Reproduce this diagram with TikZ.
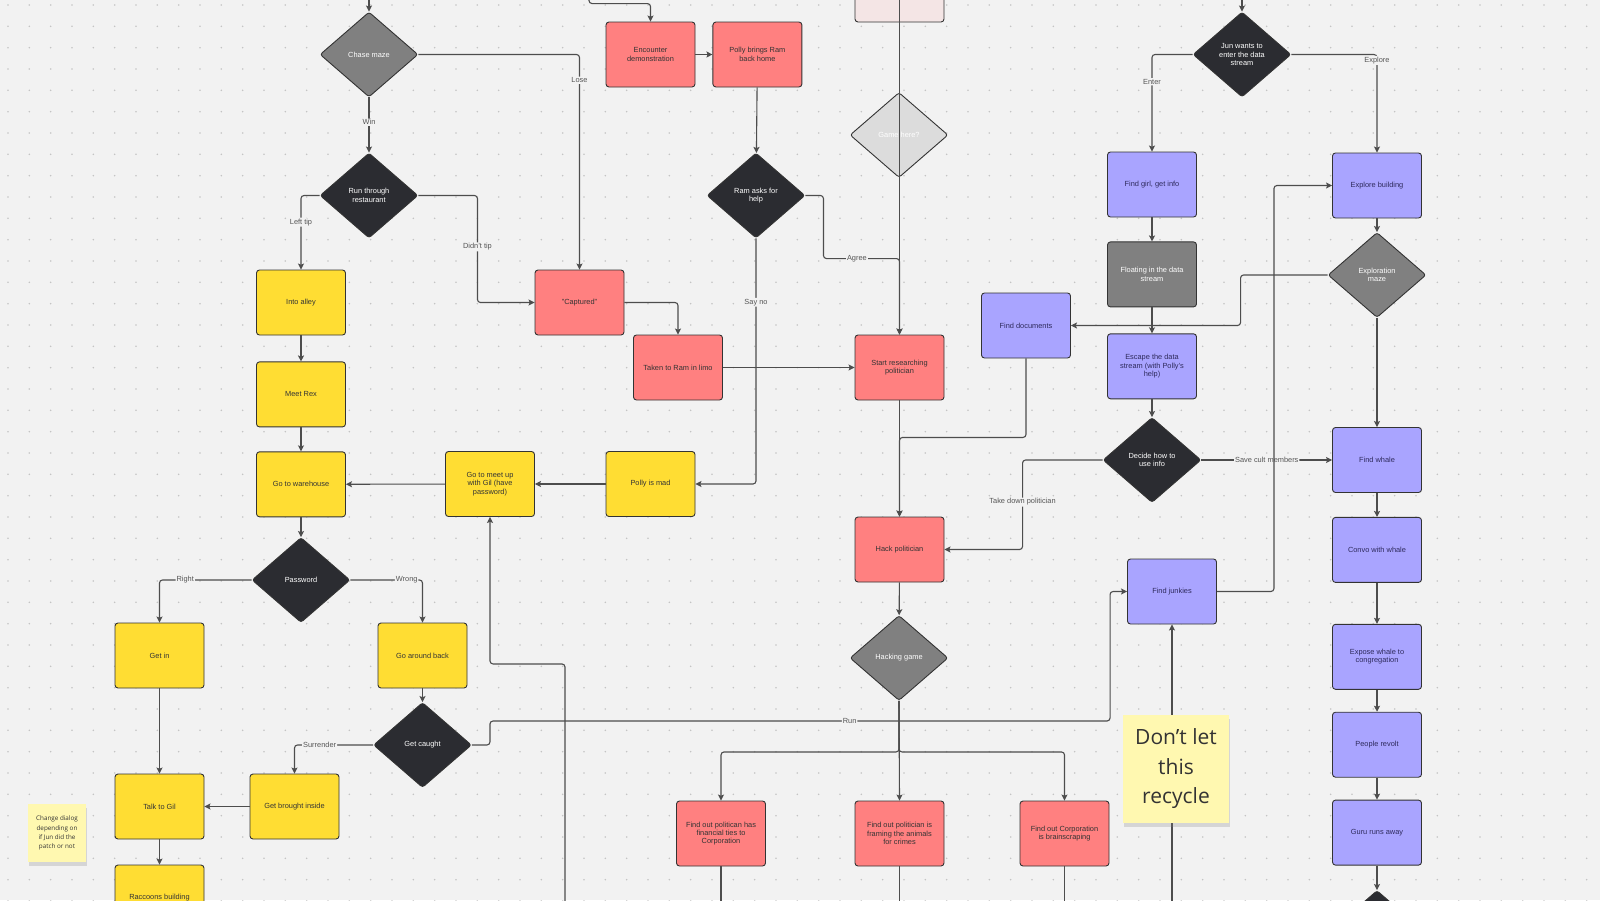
\documentclass[tikz,border=0pt]{standalone}
\usepackage{fontspec}
\setmainfont{Liberation Sans}
\newfontfamily\stickyfont{Open Sans}
\usetikzlibrary{positioning,arrows.meta,calc,shapes.geometric,shadows}
\definecolor{cbg}{HTML}{F2F2F2}
\definecolor{cdot}{HTML}{C4C4C4}
\definecolor{cred}{HTML}{FF8080}
\definecolor{cyel}{HTML}{FFDD33}
\definecolor{cpur}{HTML}{A9A4FF}
\definecolor{cdark}{HTML}{2B2C31}
\definecolor{cgray}{HTML}{808080}
\definecolor{cline}{HTML}{4D4D4D}
\definecolor{cmut}{HTML}{555555}
\definecolor{cink}{HTML}{333333}
\definecolor{cpink}{HTML}{F4E5E5}
\definecolor{cfade}{HTML}{DCDCDC}
\definecolor{cnote}{HTML}{FFF8B0}
\definecolor{cpurtxt}{HTML}{2E2A5C}

\begin{document}
\begin{tikzpicture}[x=1pt, y=-1pt,
  card/.style={rectangle, rounded corners=3pt, draw=cink, line width=0.9pt,
               minimum width=89pt, minimum height=65pt, inner sep=2pt, align=center,
               font=\fontsize{7.4}{8.4}\selectfont, text=cink},
  redbox/.style={card, fill=cred},
  yelbox/.style={card, fill=cyel},
  purbox/.style={card, fill=cpur, text=cpurtxt},
  gatedark/.style={diamond, rounded corners=2.5pt, draw=cink, line width=0.9pt, fill=cdark,
               minimum width=98pt, minimum height=85pt, inner sep=0pt, align=center,
               font=\fontsize{7.4}{8.4}\selectfont, text=white},
  gategray/.style={gatedark, fill=cgray},
  lbl/.style={fill=cbg, inner sep=1pt, text=cmut, font=\fontsize{7.4}{8.4}\selectfont},
  arr/.style={-{Stealth[length=6pt, width=6pt, inset=1.2pt]}, line width=1.1pt,
              draw=cline, rounded corners=3pt},
  wire/.style={line width=1.1pt, draw=cline, rounded corners=3pt},
  sticky/.style={rectangle, fill=cnote, inner sep=2pt, align=center, text=cink,
                 drop shadow={shadow xshift=1pt, shadow yshift=-4pt, opacity=0.25}},
  node distance=25pt
]
\useasboundingbox (0,0) rectangle (1600,900);
\clip (0,0) rectangle (1600,900);

% --- board: dotted canvas ---
\fill[cbg] (0,0) rectangle (1600,900);
\foreach \i in {0,...,75}
  \foreach \j in {0,...,42}
    \fill[cdot] ({8+21.333*\i},{5+21.333*\j}) circle (0.9pt);

% --- left column: restaurant chase and warehouse ---
\node[gategray] (chase) at (369,54.5) {Chase maze};
\node[gatedark] (run) at (369,195.5) {Run through\\restaurant};
\node[yelbox] (into) at (301,302.5) {Into alley};
\node[yelbox, below=26pt of into] (rex) {Meet Rex};
\node[yelbox, below=24pt of rex] (ware) {Go to warehouse};
\node[gatedark] (pass) at (301,580) {Password};
\node[yelbox] (getin) at (159.5,655.5) {Get in};
\node[yelbox] (back) at (422.5,655.5) {Go around back};
\node[gatedark] (caught) at (422.5,745) {Get caught};
\node[yelbox] (brought) at (294.5,806.5) {Get brought inside};
\node[yelbox] (gil) at (159.5,806.5) {Talk to Gil};
\node[yelbox] (racc) at (159.5,897.5) {Raccoons building};
\node[yelbox] (gomeet) at (490,484) {Go to meet up\\with Gil (have\\password)};
\node[yelbox] (mad) at (650.5,484) {Polly is mad};

% --- middle: Ram and the politician ---
\node[redbox] (captured) at (579.5,302.5) {"Captured"};
\node[redbox] (limo) at (678,367.5) {Taken to Ram in limo};
\node[redbox] (enc) at (650.5,54.5) {Encounter\\demonstration};
\node[redbox, right=17pt of enc] (polly) {Polly brings Ram\\back home};
\node[gatedark] (ram) at (756,195.5) {Ram asks for\\help};
\node[card, fill=cpink] (ghost) at (899.5,-10.5) {};
\node[gategray, fill=cfade] (game) at (899,135) {Game here?};
\node[redbox] (start) at (899.5,367.5) {Start researching\\politician};
\node[redbox] (hack) at (899.5,549.5) {Hack politician};
\node[gategray] (hgame) at (899,658) {Hacking game};
\node[redbox] (fin1) at (721,833.5) {Find out politican has\\financial ties to\\Corporation};
\node[redbox] (fin2) at (899.5,833.5) {Find out politician is\\framing the animals\\for crimes};
\node[redbox] (fin3) at (1064.5,833.5) {Find out Corporation\\is brainscraping};

% --- right: data stream and the whale ---
\node[purbox] (docs) at (1026,325.5) {Find documents};
\node[gatedark] (jun) at (1242,54.5) {Jun wants to\\enter the data\\stream};
\node[purbox] (girl) at (1152,184.5) {Find girl, get info};
\node[card, fill=cgray, text=white, below=24pt of girl] (float) {Floating in the data\\stream};
\node[purbox, below=26pt of float] (escape) {Escape the data\\stream (with Polly's\\help)};
\node[gatedark] (decide) at (1152,460) {Decide how to\\use info};
\node[purbox] (junkies) at (1172,591.5) {Find junkies};
\node[purbox] (explore) at (1377,185.5) {Explore building};
\node[gategray] (emaze) at (1377,275) {Exploration\\maze};
\node[purbox] (whale) at (1377,460) {Find whale};
\node[purbox, below=24pt of whale] (convo) {Convo with whale};
\node[purbox, below=41pt of convo] (expose) {Expose whale to\\congregation};
\node[purbox, below=22pt of expose] (revolt) {People revolt};
\node[purbox, below=22pt of revolt] (guru) {Guru runs away};
\node[gatedark] (last) at (1377,933) {};

% --- loose ends at the board edges ---
\coordinate (inChase) at (369,-10);
\coordinate (inEnc) at (589,-10);
\coordinate (inJun) at (1242,-10);
\coordinate (inStart) at (899.5,-60);
\coordinate (upMeet) at (565,920);
\coordinate (upJunk) at (1172,920);

% --- connectors: left ---
\draw[arr] (inChase) -- (chase.north);
\draw[arr] (chase.south) -- node[lbl, pos=0.45] (lWin) {Win} (run.north);
\draw[arr] (chase.east) -| node[lbl, pos=0.56] (lLose) {Lose} (captured.north);
\draw[arr] (run.west) -| node[lbl, pos=0.68] (lLeft) {Left tip} (into.north);
\draw[arr] (run.east) -- ++(59,0) |- node[lbl, pos=0.24] (lDidnt) {Didn't tip} (captured.west);
\draw[arr] (into) -- (rex);
\draw[arr] (rex) -- (ware);
\draw[arr] (ware) -- (pass);
\draw[arr] (pass.west) -| node[lbl, pos=0.36] (lRight) {Right} (getin.north);
\draw[arr] (pass.east) -| node[lbl, pos=0.39] (lWrong) {Wrong} (back.north);
\draw[arr] (back) -- (caught);
\draw[arr] (caught.west) -| node[lbl, pos=0.34] (lSurr) {Surrender} (brought.north);
\draw[arr] (brought) -- (gil);
\draw[arr] (getin) -- (gil);
\draw[arr] (gil) -- (racc);
\draw[arr] (caught.east) -- ++(18,0)
  |- node[lbl, pos=0.79] (lRun) {Run} ($(junkies.west)+(-17,129.5)$) |- (junkies.west);

% --- connectors: middle ---
\draw[arr] (inEnc) |- ($(enc.north)+(0,-18)$) -- (enc.north);
\draw[arr] (enc) -- (polly);
\draw[arr] (polly) -- (ram);
\draw[arr] (captured.east) -| (limo.north);
\draw[arr] (limo) -- (start);
\draw[arr] (ram.south) |- node[lbl, pos=0.13] (lSayno) {Say no} (mad.east);
\draw[arr] (mad) -- (gomeet);
\draw[arr] (gomeet) -- (ware);
\draw[arr] (upMeet) |- ($(gomeet.south)+(0,147)$) -- (gomeet.south);
\draw[arr] (ram.east) -- ++(18,0)
  |- node[lbl, pos=0.72] (lAgree) {Agree} ($(start.north)+(0,-76)$) -- (start.north);
\draw[arr] (inStart) -- (start.north);
\draw[arr] (start) -- (hack);
\draw[arr] (docs.south) |- ($(start.south)+(0,37)$) -- (hack.north);
\draw[arr] (hack) -- (hgame);
\draw[arr] (hgame.south) -- ++(0,51) -| (fin1.north);
\draw[arr] (hgame.south) -- (fin2.north);
\draw[arr] (hgame.south) -- ++(0,51) -| (fin3.north);
\draw[wire] (fin1.south) -- ++(0,50);
\draw[wire] (fin2.south) -- ++(0,50);
\draw[wire] (fin3.south) -- ++(0,50);

% --- connectors: right ---
\draw[arr] (inJun) -- (jun.north);
\draw[arr] (jun.west) -| node[lbl, pos=0.64] (lEnter) {Enter} (girl.north);
\draw[arr] (jun.east) -| node[lbl, pos=0.53] (lExpl) {Explore} (explore.north);
\draw[arr] (girl) -- (float);
\draw[arr] (float) -- (escape);
\draw[arr] (escape) -- (decide);
\draw[arr] (decide.west) -- ++(-80,0)
  |- node[lbl, pos=0.235] (lTake) {Take down politician} (hack.east);
\draw[arr] (decide) -- node[lbl] (lSave) {Save cult members} (whale);
\draw[arr] (explore) -- (emaze);
\draw[arr] (emaze) -- (whale);
\draw[arr] (emaze.west) -- ++(-87,0) |- (docs.east);
\draw[arr] (junkies.east) -- ++(57,0) |- (explore.west);
\draw[arr] (upJunk) -- (junkies.south);
\draw[arr] (whale) -- (convo);
\draw[arr] (convo) -- (expose);
\draw[arr] (expose) -- (revolt);
\draw[arr] (revolt) -- (guru);
\draw[arr] (guru) -- (last);

% --- sticky notes ---
\node[sticky, minimum width=106pt, minimum height=108pt,
      font=\stickyfont\fontsize{21}{29.5}\selectfont] (memo) at (1176,769)
  {Don’t let\\this\\recycle};
\node[sticky, minimum width=58pt, minimum height=58pt,
      font=\stickyfont\fontsize{6.3}{9.2}\selectfont] (tip) at (57,833)
  {Change dialog\\depending on\\if Jun did the\\patch or not};

\end{tikzpicture}
\end{document}
